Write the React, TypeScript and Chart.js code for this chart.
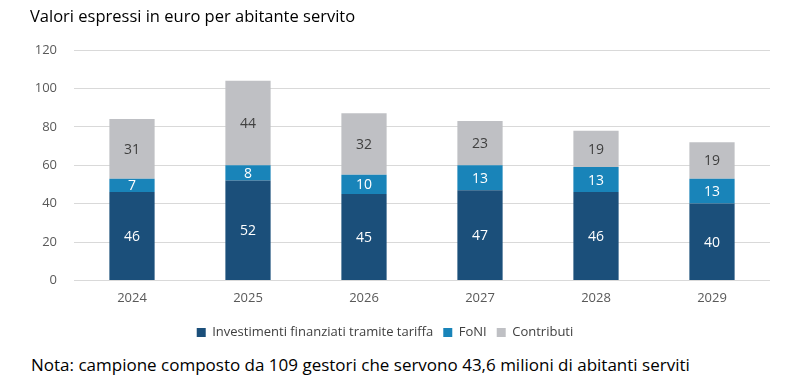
import React, { useEffect, useRef } from "react";
import { Chart, registerables } from "chart.js";

Chart.register(...registerables);

const categories = ["2024", "2025", "2026", "2027", "2028", "2029"];
const investimenti = [46, 52, 45, 47, 46, 40];
const foni = [7, 8, 10, 13, 13, 13];
const contributi = [31, 44, 32, 23, 19, 19];
const seriesNames = ["Investimenti finanziati tramite tariffa", "FoNI", "Contributi"];
const yTicks = [0, 20, 40, 60, 80, 100, 120];

const FONT = "'Open Sans', 'Noto Sans', sans-serif";

const valueLabels = {
  id: "valueLabels",
  afterDatasetsDraw(chart: any) {
    const ctx = chart.ctx;
    ctx.save();
    ctx.font = `14px ${FONT}`;
    ctx.textAlign = "center";
    ctx.textBaseline = "middle";
    chart.data.datasets.forEach((ds: any, i: number) => {
      const meta = chart.getDatasetMeta(i);
      meta.data.forEach((bar: any, j: number) => {
        const v = ds.data[j];
        const y = (bar.y + bar.base) / 2;
        ctx.fillStyle = i === 2 ? "#404040" : "#ffffff";
        ctx.fillText(String(v), bar.x, y + 1);
      });
    });
    ctx.restore();
  },
};

export default function App() {
  const ref = useRef<HTMLCanvasElement>(null);
  useEffect(() => {
    if (!ref.current) return;
    const chart = new Chart(ref.current, {
      type: "bar",
      data: {
        labels: categories,
        datasets: [
          { label: seriesNames[0], data: investimenti, backgroundColor: "#1b4f7a" },
          { label: seriesNames[1], data: foni, backgroundColor: "#1984b9" },
          { label: seriesNames[2], data: contributi, backgroundColor: "#bfc0c4" },
        ],
      },
      options: {
        responsive: false,
        animation: false,
        layout: { padding: { top: 50, right: 30, left: 0, bottom: 0 } },
        datasets: { bar: { barPercentage: 0.39, categoryPercentage: 1 } },
        scales: {
          x: {
            stacked: true,
            grid: { display: false, drawTicks: false },
            border: { display: false },
            ticks: { color: "#595959", font: { family: FONT, size: 13 }, padding: 10 },
          },
          y: {
            stacked: true,
            min: 0,
            max: 120,
            afterBuildTicks(scale: any) {
              scale.ticks = yTicks.map((v) => ({ value: v }));
            },
            afterFit(scale: any) {
              scale.width = 74;
            },
            grid: { color: "#d9d9d9", drawTicks: false, lineWidth: 1 },
            border: { display: false },
            ticks: { color: "#595959", font: { family: FONT, size: 13 }, padding: 17 },
          },
        },
        plugins: {
          legend: {
            position: "bottom",
            labels: {
              color: "#404040",
              font: { family: FONT, size: 13 },
              boxWidth: 9,
              boxHeight: 9,
              padding: 10,
            },
          },
          tooltip: { enabled: false },
        },
      },
      plugins: [valueLabels],
    });
    return () => chart.destroy();
  }, []);

  return (
    <div style={{ position: "absolute", left: 0, top: 0, width: 800, height: 390, background: "#fff", fontFamily: FONT }}>
      <canvas ref={ref} width={800} height={349} style={{ position: "absolute", left: 0, top: 0 }} />
      <div style={{ position: "absolute", left: 30, top: 4, fontSize: 16.5, color: "#000" }}>
        Valori espressi in euro per abitante servito
      </div>
      <div style={{ position: "absolute", left: 31, top: 353, fontSize: 17, color: "#000" }}>
        Nota: campione composto da 109 gestori che servono 43,6 milioni di abitanti serviti
      </div>
    </div>
  );
}
